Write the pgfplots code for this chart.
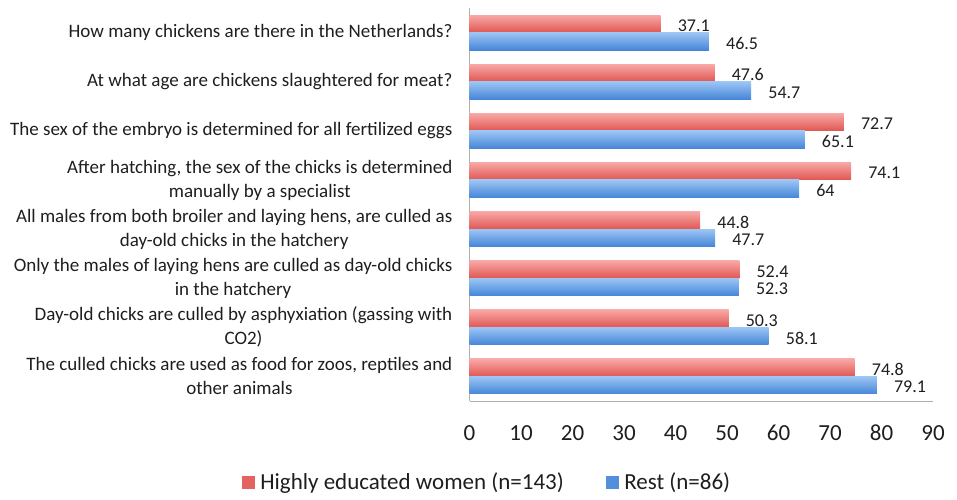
\documentclass[border=0pt]{standalone}
\usepackage{pgfplots}
\pgfplotsset{compat=1.18}
\usepackage{fontspec}
\setmainfont{Carlito}
\definecolor{redtop}{RGB}{248,168,166}
\definecolor{redbot}{RGB}{224,86,82}
\definecolor{bluetop}{RGB}{156,197,244}
\definecolor{bluebot}{RGB}{70,134,216}
\definecolor{txt}{RGB}{30,30,30}
\definecolor{axisgray}{RGB}{175,175,175}
\begin{document}
\begin{tikzpicture}
\path[use as bounding box] (0pt,0pt) rectangle (957pt,499pt);
\begin{axis}[
 at={(469.5pt,98pt)}, anchor=south west,
 scale only axis, width=463.5pt, height=393pt,
 xbar=0pt, bar width=17.5pt,
 xmin=0, xmax=90, ymin=0.5, ymax=8.5, y dir=reverse,
 xtick={0,10,...,90}, ytick={1,...,8},
 yticklabels={
  {How many chickens are there in the Netherlands?},
  {At what age are chickens slaughtered for meat?},
  {The sex of the embryo is determined for all fertilized eggs},
  {After hatching, the sex of the chicks is determined\\manually by a specialist},
  {All males from both broiler and laying hens, are culled as\\day-old chicks in the hatchery},
  {Only the males of laying hens are culled as day-old chicks\\in the hatchery},
  {Day-old chicks are culled by asphyxiation (gassing with\\CO2)},
  {The culled chicks are used as food for zoos, reptiles and\\other animals}},
 axis x line*=bottom, axis y line*=left,
 axis line style={axisgray, line width=1pt, -},
 major tick length=0pt,
 /pgf/number format/assume math mode=true,
 xticklabel style={font=\fontsize{23}{27}\selectfont, text=txt, inner sep=0pt, yshift=-24pt},
 yticklabel style={font=\fontsize{19}{24}\selectfont, text=txt, align=center, inner sep=0pt, xshift=-17pt},
 nodes near coords,
 nodes near coords style={font=\fontsize{18}{20}\selectfont, text=txt, anchor=west, inner sep=0pt, xshift=17pt, yshift=-2pt},
 legend style={at={(0.038,-0.206)}, anchor=center, draw=none, fill=none, legend columns=2, font=\fontsize{23}{27}\selectfont, text=txt,
   /tikz/every odd column/.append style={column sep=4pt},
   /tikz/every even column/.append style={column sep=40pt}},
 clip=false,
 R/.style={draw=none, top color=redtop, bottom color=redbot, bar shift=8.75pt, forget plot},
 B/.style={draw=none, top color=bluetop, bottom color=bluebot, bar shift=-8.75pt, forget plot},
]
\addlegendimage{legend image code/.code={\fill[redbot!85!redtop] (0pt,-6pt) rectangle (12pt,6pt);}}
\addlegendimage{legend image code/.code={\fill[bluebot!85!bluetop] (0pt,-6pt) rectangle (12pt,6pt);}}
% Highly educated women (n=143)
\addplot[R] coordinates {(37.1,1)};
\addplot[R] coordinates {(47.6,2)};
\addplot[R] coordinates {(72.7,3)};
\addplot[R] coordinates {(74.1,4)};
\addplot[R] coordinates {(44.8,5)};
\addplot[R] coordinates {(52.4,6)};
\addplot[R] coordinates {(50.3,7)};
\addplot[R] coordinates {(74.8,8)};
% Rest (n=86)
\addplot[B] coordinates {(46.5,1)};
\addplot[B] coordinates {(54.7,2)};
\addplot[B] coordinates {(65.1,3)};
\addplot[B] coordinates {(64,4)};
\addplot[B] coordinates {(47.7,5)};
\addplot[B] coordinates {(52.3,6)};
\addplot[B] coordinates {(58.1,7)};
\addplot[B] coordinates {(79.1,8)};
\legend{Highly educated women (n=143), Rest (n=86)}
\end{axis}
\end{tikzpicture}
\end{document}
